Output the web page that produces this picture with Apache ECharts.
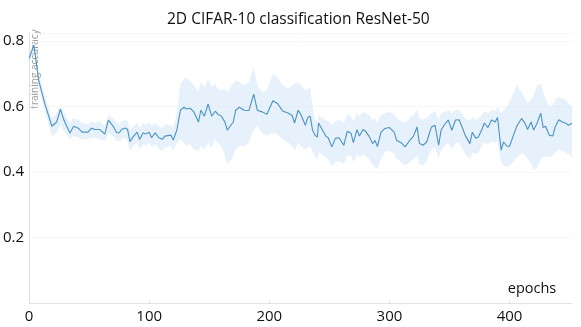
<!DOCTYPE html>
<html>
<head>
<meta charset="utf-8">
<script src="https://cdn.jsdelivr.net/npm/echarts@6/dist/echarts.min.js"></script>
<style>
  html, body { margin: 0; padding: 0; background: #fff; }
  #chart { width: 581px; height: 327px; }
</style>
</head>
<body>
<div id="chart"></div>
<script>
const epochs = [
  0, 4, 8, 13, 19, 23, 26, 29, 31, 34,
  37, 41, 44, 49, 52, 55, 59, 63, 66, 70,
  73, 75, 77, 80, 82, 84, 87, 90, 92, 95,
  97, 100, 102, 105, 108, 111, 113, 118, 120, 123,
  126, 129, 131, 134, 137, 141, 143, 146, 149, 152,
  155, 157, 160, 163, 165, 168, 170, 172, 175, 179,
  183, 187, 190, 194, 198, 203, 207, 211, 216, 219,
  221, 224, 226, 230, 232, 234, 236, 238, 240, 241,
  244, 247, 249, 252, 255, 258, 262, 265, 268, 270,
  273, 275, 278, 280, 283, 286, 288, 290, 293, 296,
  300, 304, 306, 310, 313, 317, 320, 323, 325, 328,
  331, 335, 338, 341, 343, 346, 349, 352, 355, 358,
  361, 363, 367, 369, 372, 374, 377, 379, 382, 385,
  388, 390, 393, 395, 398, 400, 403, 406, 407, 410,
  413, 415, 418, 420, 423, 426, 428, 430, 433, 436,
  438, 441, 444, 447, 449, 452
]

const accuracy = [
  0.748, 0.788, 0.68, 0.61, 0.54, 0.553, 0.592, 0.559, 0.543, 0.519,
  0.54, 0.534, 0.522, 0.522, 0.534, 0.53, 0.53, 0.516, 0.559, 0.54,
  0.52, 0.52, 0.53, 0.535, 0.53, 0.493, 0.51, 0.522, 0.50, 0.52,
  0.516, 0.522, 0.505, 0.52, 0.505, 0.50, 0.51, 0.513, 0.498, 0.528,
  0.589, 0.598, 0.593, 0.595, 0.585, 0.553, 0.589, 0.571, 0.608, 0.571,
  0.586, 0.577, 0.571, 0.553, 0.528, 0.543, 0.553, 0.589, 0.598, 0.589,
  0.588, 0.638, 0.589, 0.584, 0.577, 0.618, 0.609, 0.587, 0.58, 0.573,
  0.55, 0.589, 0.578, 0.543, 0.567, 0.571, 0.528, 0.513, 0.507, 0.55,
  0.53, 0.51, 0.505, 0.477, 0.503, 0.505, 0.482, 0.525, 0.519, 0.49,
  0.53, 0.51, 0.53, 0.525, 0.51, 0.487, 0.497, 0.478, 0.522, 0.533,
  0.536, 0.522, 0.497, 0.489, 0.477, 0.497, 0.51, 0.538, 0.487, 0.482,
  0.492, 0.538, 0.543, 0.482, 0.528, 0.546, 0.559, 0.528, 0.559, 0.56,
  0.533, 0.513, 0.487, 0.522, 0.503, 0.507, 0.53, 0.55, 0.536, 0.559,
  0.553, 0.567, 0.467, 0.492, 0.479, 0.479, 0.51, 0.54, 0.538, 0.564,
  0.548, 0.53, 0.553, 0.528, 0.55, 0.58, 0.536, 0.54, 0.513, 0.51,
  0.538, 0.56, 0.553, 0.549, 0.543, 0.549
]

const lower = [
  0.73, 0.77, 0.66, 0.585, 0.51, 0.52, 0.545, 0.525, 0.515, 0.50,
  0.51, 0.505, 0.50, 0.50, 0.505, 0.505, 0.50, 0.495, 0.52, 0.51,
  0.495, 0.495, 0.50, 0.505, 0.495, 0.465, 0.48, 0.49, 0.47, 0.485,
  0.48, 0.49, 0.475, 0.485, 0.47, 0.465, 0.475, 0.48, 0.465, 0.49,
  0.50, 0.49, 0.48, 0.485, 0.47, 0.465, 0.48, 0.47, 0.49, 0.475,
  0.50, 0.49, 0.48, 0.45, 0.425, 0.435, 0.45, 0.47, 0.48, 0.48,
  0.49, 0.53, 0.54, 0.52, 0.51, 0.52, 0.515, 0.50, 0.49, 0.48,
  0.465, 0.49, 0.48, 0.47, 0.475, 0.48, 0.46, 0.45, 0.44, 0.46,
  0.455, 0.445, 0.44, 0.42, 0.43, 0.435, 0.425, 0.45, 0.45, 0.43,
  0.455, 0.445, 0.455, 0.45, 0.44, 0.42, 0.415, 0.41, 0.44, 0.46,
  0.465, 0.455, 0.44, 0.43, 0.42, 0.43, 0.44, 0.45, 0.425, 0.42,
  0.435, 0.47, 0.475, 0.44, 0.465, 0.48, 0.49, 0.47, 0.49, 0.49,
  0.47, 0.455, 0.44, 0.46, 0.455, 0.46, 0.48, 0.49, 0.485, 0.495,
  0.49, 0.495, 0.43, 0.42, 0.415, 0.42, 0.43, 0.445, 0.445, 0.46,
  0.45, 0.44, 0.425, 0.405, 0.415, 0.44, 0.445, 0.45, 0.445, 0.45,
  0.46, 0.47, 0.465, 0.46, 0.455, 0.445
]

const upper = [
  0.76, 0.80, 0.70, 0.635, 0.565, 0.58, 0.60, 0.585, 0.57, 0.55,
  0.565, 0.56, 0.55, 0.545, 0.555, 0.55, 0.555, 0.54, 0.575, 0.565,
  0.55, 0.545, 0.555, 0.56, 0.555, 0.53, 0.54, 0.55, 0.535, 0.55,
  0.545, 0.55, 0.54, 0.55, 0.54, 0.535, 0.545, 0.545, 0.535, 0.58,
  0.67, 0.685, 0.69, 0.68, 0.665, 0.645, 0.675, 0.66, 0.685, 0.66,
  0.67, 0.655, 0.65, 0.655, 0.645, 0.66, 0.67, 0.68, 0.675, 0.665,
  0.675, 0.72, 0.665, 0.645, 0.65, 0.70, 0.69, 0.665, 0.655, 0.665,
  0.67, 0.675, 0.665, 0.65, 0.655, 0.66, 0.60, 0.56, 0.555, 0.575,
  0.565, 0.56, 0.555, 0.545, 0.555, 0.56, 0.55, 0.575, 0.57, 0.555,
  0.58, 0.57, 0.585, 0.58, 0.575, 0.56, 0.565, 0.55, 0.575, 0.58,
  0.585, 0.575, 0.565, 0.555, 0.55, 0.565, 0.575, 0.59, 0.565, 0.56,
  0.565, 0.58, 0.585, 0.56, 0.58, 0.585, 0.59, 0.58, 0.59, 0.59,
  0.575, 0.565, 0.555, 0.57, 0.56, 0.565, 0.575, 0.585, 0.58, 0.59,
  0.585, 0.60, 0.58, 0.59, 0.60, 0.615, 0.64, 0.665, 0.66, 0.645,
  0.625, 0.61, 0.62, 0.635, 0.665, 0.67, 0.645, 0.625, 0.60, 0.605,
  0.62, 0.63, 0.625, 0.62, 0.61, 0.60
]

const xTicks = [0, 100, 200, 300, 400]
const yTicks = [0.2, 0.4, 0.6, 0.8]

const chart = echarts.init(document.getElementById('chart'))

const meanData = epochs.map((e, i) => [e, accuracy[i]])

// band polygon: upper edge left->right, lower edge right->left
const renderBand = (params, api) => {
  const pts = []
  for (let i = 0; i < epochs.length; i++) pts.push(api.coord([epochs[i], upper[i]]))
  for (let i = epochs.length - 1; i >= 0; i--) pts.push(api.coord([epochs[i], lower[i]]))
  return {
    type: 'polygon',
    shape: { points: pts },
    style: { fill: 'rgba(200, 224, 246, 0.45)' },
    silent: true
  }
}

const option = {
  animation: false,
  title: {
    text: '2D CIFAR-10 classification ResNet-50',
    left: 162,
    top: 7,
    textStyle: { fontFamily: 'Open Sans', fontSize: 15.5, fontWeight: 'normal', color: '#111' }
  },
  grid: { left: 29, right: 9, top: 33, bottom: 24 },
  xAxis: {
    type: 'value',
    min: 0,
    max: 452,
    interval: 100,
    axisLine: { lineStyle: { color: '#e2e2e2' } },
    axisTick: { show: true, inside: true, length: 3, lineStyle: { color: '#e2e2e2' } },
    splitLine: { show: false },
    axisLabel: {
      showMaxLabel: false,
      fontFamily: 'Open Sans',
      fontSize: 15,
      color: '#111',
      margin: 6,
      formatter: v => xTicks.includes(v) ? String(v) : ''
    }
  },
  yAxis: {
    type: 'value',
    min: 0,
    max: 0.825,
    interval: 0.2,
    axisLine: { show: true, lineStyle: { color: '#e2e2e2' } },
    axisTick: { show: false },
    splitLine: { show: true, lineStyle: { color: '#f6f6f6' } },
    axisLabel: {
      showMinLabel: false,
      showMaxLabel: false,
      fontFamily: 'Open Sans',
      fontSize: 15,
      color: '#111',
      margin: 5,
      formatter: v => {
        const t = yTicks.find(k => Math.abs(k - v) < 1e-6)
        return t !== undefined ? t.toFixed(1) : ''
      }
    }
  },
  graphic: [
    {
      type: 'text',
      x: 35,
      y: 69,
      rotation: Math.PI / 2,
      style: {
        text: 'training accuracy',
        fontFamily: 'Open Sans',
        fontSize: 10,
        fill: '#9a9a9a',
        align: 'center',
        verticalAlign: 'middle'
      }
    },
    {
      type: 'text',
      x: 532,
      y: 289,
      style: {
        text: 'epochs',
        fontFamily: 'Open Sans',
        fontSize: 14.5,
        fill: '#111',
        align: 'center',
        verticalAlign: 'middle'
      }
    }
  ],
  series: [
    {
      name: 'band',
      type: 'custom',
      renderItem: renderBand,
      data: [[0, 0]],
      silent: true,
      z: 1
    },
    {
      name: 'accuracy',
      type: 'line',
      data: meanData,
      symbol: 'none',
      z: 2,
      lineStyle: { color: '#4a93c4', width: 1.1 }
    }
  ]
}

chart.setOption(option)
</script>
</body>
</html>
